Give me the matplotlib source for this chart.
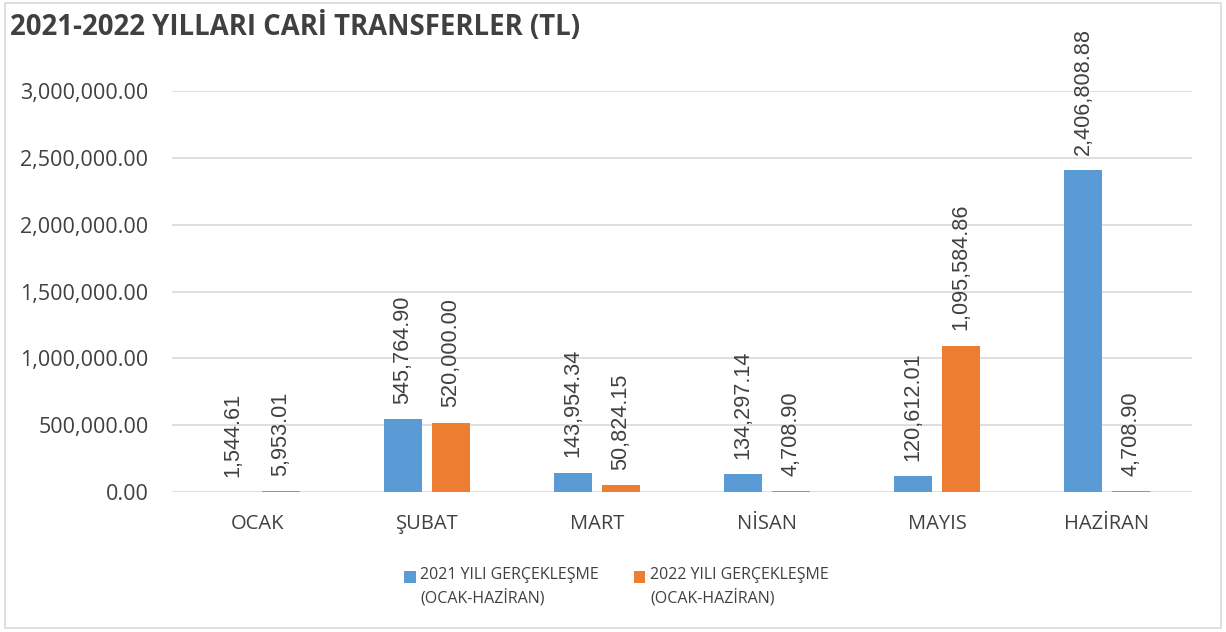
import numpy as np
import matplotlib.pyplot as plt
from matplotlib.patches import Rectangle
from matplotlib.container import BarContainer
from matplotlib.legend_handler import HandlerPatch, update_from_first_child

# Data
months = ["OCAK", "ŞUBAT", "MART", "NİSAN", "MAYIS", "HAZİRAN"]
values2021 = [1544.61, 545764.90, 143954.34, 134297.14, 120612.01, 2406808.88]
values2022 = [5953.01, 520000.00, 50824.15, 4708.90, 1095584.86, 4708.90]
seriesNames = ["2021 YILI GERÇEKLEŞME\n(OCAK-HAZİRAN)", "2022 YILI GERÇEKLEŞME\n(OCAK-HAZİRAN)"]

blue = "#5B9BD5"
orange = "#ED7D31"
textColor = "#404040"

plt.rcParams['font.family'] = ['Open Sans', 'DejaVu Sans']

fig = plt.figure(figsize=(12.26, 6.32), dpi=100)
ax = fig.add_axes([0.1403, 0.2215, 0.832, 0.6345])

x = np.arange(len(months))
w = 0.225
off = 0.141
bars1 = ax.bar(x - off, values2021, w, color=blue, label=seriesNames[0], zorder=3)
bars2 = ax.bar(x + off, values2022, w, color=orange, label=seriesNames[1], zorder=3)

# value labels, rotated like the excel data labels
for bars in (bars1, bars2):
	for b in bars:
		h = b.get_height()
		ax.annotate("{:,.2f}".format(h), (b.get_x() + b.get_width() / 2, h),
			xytext=(0, 11), textcoords="offset points", rotation=90,
			ha="center", va="bottom", fontsize=15.6, color=textColor,
			family=["Liberation Sans", "DejaVu Sans"], clip_on=False)

ax.set_xlim(-0.5, len(months) - 0.5)
ax.set_ylim(0, 3000000)
ax.set_yticks(np.arange(0, 3000001, 500000))
ax.yaxis.set_major_formatter(plt.FuncFormatter(lambda v, p: "{:,.2f}".format(v)))
ax.set_xticks(x)
ax.set_xticklabels(months)
ax.tick_params(axis="both", length=0, colors=textColor)
ax.tick_params(axis="x", pad=16, labelsize=14.5)
ax.tick_params(axis="y", pad=17, labelsize=15.5)
ax.grid(axis="y", color="#D9D9D9", linewidth=1.2, zorder=0)
for s in ax.spines.values():
	s.set_visible(False)

fig.text(0.008, 0.958, "2021-2022 YILLARI CARİ TRANSFERLER (TL)", fontsize=19.8,
	fontweight="bold", color=textColor, ha="left", va="center")

# legend square sits next to the first line of the label
def topSquare(legend, orig_handle, xdescent, ydescent, width, height, fontsize):
	return Rectangle((-xdescent, -ydescent + 0.62 * fontsize), width, height)

leg = fig.legend(loc="center", bbox_to_anchor=(0.503, 0.072), ncol=2, frameon=False,
	fontsize=11.5, handlelength=0.7, handleheight=0.7, columnspacing=2.2, handletextpad=0.3,
	labelcolor=textColor,
	handler_map={BarContainer: HandlerPatch(patch_func=topSquare, update_func=update_from_first_child)})
for t in leg.get_texts():
	t.set_linespacing(1.45)

fig.patches.append(Rectangle((0.004, 0.006), 0.992, 0.99, transform=fig.transFigure,
	fill=False, edgecolor="#D9D9D9", linewidth=1.2))

fig.savefig("out.png", dpi=100)
